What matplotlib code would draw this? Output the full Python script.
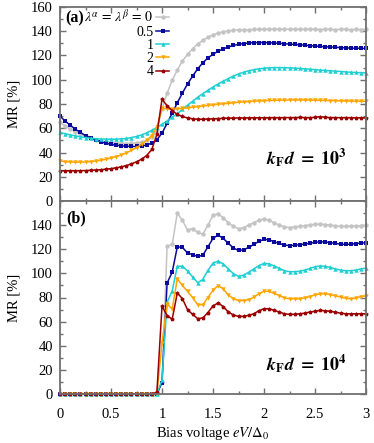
import numpy as np
import matplotlib
matplotlib.use("Agg")
import matplotlib.pyplot as plt

plt.rcParams['font.family'] = ['Liberation Serif', 'DejaVu Serif']
plt.rcParams['mathtext.fontset'] = 'stix'

# ---------------- data ----------------
x = np.linspace(0, 3, 61)
series_labels = [r"$\lambda^{\alpha}\,=\,\lambda^{\beta}\,=\,0$", "0.5", "1", "2", "4"]
colors = ['#c4c4c4', '#0a0a9c', '#1fcfd2', '#ffa500', '#9a0000']
markers = ['o', 's', '^', 'v', 'p']

gray_a = [65, 62, 59.3, 57, 55, 53.3, 51.8, 50.6, 49.6, 48.8, 48.2, 47.8, 47.5, 47.4, 47.5, 47.8, 48.6, 50, 52.5, 58,
          76, 89, 99.5, 108, 115.5, 121, 125.5, 129.5, 132.5, 135, 137, 138.5, 139.5, 140.3, 140.8, 141.2, 141.4, 141.2, 141.5, 141.6, 141.7,
          141.6, 141.8, 141.7, 141.8, 141.6, 141.8, 141.7, 141.6, 141.9, 141.7, 141.4, 141.7, 141.6, 141.3, 141.6, 141.5, 141.2, 141.6, 141.4, 141.5]
blue_a = [70, 66, 62.5, 59.3, 56.5, 54, 52, 50.2, 48.8, 47.6, 46.7, 46, 45.5, 45.2, 45, 45, 45.3, 46.2, 47.8, 50.5,
          56, 64, 72.5, 81, 89, 96.5, 103, 109, 114, 118, 121, 123.5, 125.5, 127, 128.3, 129.2, 129.8, 130.3, 130.6, 130.7, 130.7,
          130.5, 130.3, 130, 129.7, 129.4, 129.1, 128.8, 128.5, 128.1, 127.8, 127.5, 127.2, 127, 126.8, 126.5, 126.3, 126.1, 126, 125.9, 125.8]
cyan_a = [56.5, 55.5, 54.5, 53.7, 53, 52.3, 51.8, 51.4, 51.1, 51, 51, 51, 51.2, 51.6, 52.3, 53.2, 54.5, 56.2, 58.3, 60.7,
          63.3, 66, 69, 72, 75.5, 79, 82.3, 85.5, 88.5, 91.3, 94, 96.5, 98.8, 101, 103, 104.8, 106.2, 107.4, 108.3, 109, 109.5,
          109.8, 110, 110, 110, 109.8, 109.6, 109.3, 109, 108.7, 108.3, 108, 107.7, 107.4, 107.1, 106.8, 106.5, 106.2, 106, 105.8, 105.6]
orange_a = [33, 32.5, 32.2, 32, 32, 32.2, 32.5, 33, 33.6, 34.4, 35.4, 36.6, 38, 39.7, 41.7, 44, 46.7, 50, 54, 61,
            76.5, 76, 75.8, 76, 76.4, 76.8, 77.3, 77.8, 78.3, 78.8, 79.3, 79.8, 80.2, 80.6, 81, 81.4, 81.7, 82, 82.3, 82.5, 82.7,
            82.9, 83, 83.1, 83.2, 83.3, 83.3, 83.3, 83.3, 83.2, 83.1, 83, 82.9, 82.8, 82.7, 82.6, 82.5, 82.4, 82.3, 82.3, 82.2]
red_a = [25, 25, 25, 25, 25, 25.1, 25.3, 25.5, 25.8, 26.2, 26.7, 27.4, 28.2, 29.2, 30.6, 32.3, 34.5, 37.5, 42.5, 55,
         84, 78.5, 74.5, 71.5, 69.7, 68.5, 67.8, 67.4, 67.4, 67.6, 67.8, 68, 68.2, 68.3, 68.4, 68.5, 68.5, 68.6, 68.6, 68.7, 68.7,
         68.7, 68.8, 68.7, 68.8, 68.8, 68.8, 68.9, 68.8, 68.8, 69.0, 69.6, 69.0, 68.8, 68.8, 68.7, 68.8, 68.7, 68.6, 68.7, 68.6]

gray_b = [0, 0, 0, 0, 0, 0, 0, 0, 0, 0, 0, 0, 0, 0, 0, 0, 0, 0, 0, 0,
          10, 122.5, 124, 150, 144, 136, 137, 134, 132.5, 140, 148, 149.5, 146, 142, 139, 137, 138, 140, 142, 144, 145,
          144, 142, 140, 138.5, 138, 138.5, 139, 139.5, 140.2, 140.7, 140.8, 140.5, 140, 139.4, 139, 139, 139.2, 139.4, 139.5, 139.7]
blue_b = [0, 0, 0, 0, 0, 0, 0, 0, 0, 0, 0, 0, 0, 0, 0, 0, 0, 0, 0, 0,
          9.5, 92, 101, 122, 121.5, 117, 115.5, 114, 115, 122, 129, 131.7, 129, 125, 121, 119, 119.5, 121.5, 124, 126.5, 128.2,
          127.8, 126.2, 124.8, 123.5, 123, 123.3, 123.8, 124.3, 125, 125.7, 126.2, 126, 125.5, 124.8, 124.3, 124, 124.2, 124.7, 125.1, 125.4]
cyan_b = [0, 0, 0, 0, 0, 0, 0, 0, 0, 0, 0, 0, 0, 0, 0, 0, 0, 0, 0, 0,
          11.5, 76, 85.5, 105.8, 106, 102, 97, 92.2, 95, 102.5, 108.5, 110.2, 107.8, 103.7, 99.8, 97.5, 98.5, 100.9, 103.7, 106.4, 108.3,
          107.8, 106.2, 104.2, 102.2, 101.4, 101.4, 101.8, 102.7, 104.1, 105.5, 106.2, 105.8, 105, 103.7, 102.7, 102.2, 102.2, 102.7, 103.7, 104.4]
orange_b = [0, 0, 0, 0, 0, 0, 0, 0, 0, 0, 0, 0, 0, 0, 0, 0, 0, 0, 0, 0.3,
            42, 74.5, 70.5, 95.5, 90, 85, 80, 74, 74, 80, 86, 89.9, 87.1, 82, 79, 77.5, 77.5, 78.2, 80.3, 83, 85.2,
            85, 83.5, 81.6, 79.7, 78.9, 78.9, 78.9, 79.7, 80.8, 82.2, 83, 83, 82.4, 81.4, 80.3, 79.4, 78.9, 79.4, 80.8, 81.4]
red_b = [0, 0, 0, 0, 0, 0, 0, 0, 0, 0, 0, 0, 0, 0, 0, 0, 0, 0, 0, 1.5,
         72.8, 65, 62, 83.8, 79, 70, 66, 62.5, 63, 67.5, 73, 75.5, 72.5, 68, 65.5, 64.3, 64.3, 65.2, 66.5, 69, 70.7,
         70.7, 69.3, 68, 66.5, 66, 66, 66.5, 67, 68, 68.5, 69.3, 69, 68.5, 67.8, 67, 66.5, 66.5, 66.5, 66.5, 66.5]

panel_a = [gray_a, blue_a, cyan_a, orange_a, red_a]
panel_b = [gray_b, blue_b, cyan_b, orange_b, red_b]

xticks = [0, 0.5, 1, 1.5, 2, 2.5, 3]
xticklabels = ["0", "0.5", "1", "1.5", "2", "2.5", "3"]
yticks_a = [0, 20, 40, 60, 80, 100, 120, 140, 160]
yticks_b = [0, 20, 40, 60, 80, 100, 120, 140]

# ---------------- figure ----------------
W, H = 374, 443
fig = plt.figure(figsize=(W / 100, H / 100), dpi=100)
left, right = 60 / W, 366 / W
ax_a = fig.add_axes([left, 1 - 201 / H, right - left, 194 / H])
ax_b = fig.add_axes([left, 1 - 394 / H, right - left, 193 / H])

frame_col = '#707070'
fs = 10.5
fs_key = 10

for ax, data in ((ax_a, panel_a), (ax_b, panel_b)):
    for ys, c, m in zip(data, colors, markers):
        ax.plot(x, ys, color=c, marker=m, markersize=3.2, markeredgewidth=0,
                linewidth=1.1, clip_on=False)
    ax.set_xlim(0, 3)
    ax.set_ylim(0, 160)
    ax.set_xticks(xticks)
    ax.set_xticks(np.arange(0, 3.01, 0.25), minor=True)
    ax.set_yticks(np.arange(0, 161, 10), minor=True)
    for s in ax.spines.values():
        s.set_color(frame_col)
        s.set_linewidth(1.3)
    ax.tick_params(which='both', direction='in', top=True, right=True,
                   color=frame_col, width=1.0, labelsize=fs)
    ax.tick_params(which='major', length=4.5)
    ax.tick_params(which='minor', length=2.5)
    ax.tick_params(axis='y', pad=5)
    ax.set_ylabel("MR [%]", fontsize=fs, labelpad=8)

ax_a.set_yticks(yticks_a)
ax_a.set_yticklabels([str(v) for v in yticks_a])
ax_a.tick_params(axis='x', labelbottom=False)
ax_b.set_yticks(yticks_b)
ax_b.set_yticklabels([str(v) for v in yticks_b])
ax_b.set_xticklabels(xticklabels)
ax_b.tick_params(axis='x', pad=10)
ax_b.set_xlabel(r"Bias voltage $eV/\Delta_0$", fontsize=fs, labelpad=3)

# key of panel (a)
ax_a.text(0.016, 0.922, "(a)", transform=ax_a.transAxes, fontsize=fs + 1,
          fontweight='bold', ha='left', va='baseline')
row_y = [0.946, 0.877, 0.809, 0.740, 0.672]
for lab, c, m, yy in zip(series_labels, colors, markers, row_y):
    ax_a.text(0.305, yy - 0.024, lab, transform=ax_a.transAxes, fontsize=fs_key,
              ha='right', va='baseline')
    ax_a.plot([0.314, 0.356], [yy, yy], transform=ax_a.transAxes, color=c,
              linewidth=1.1, clip_on=False)
    ax_a.plot([0.335], [yy], transform=ax_a.transAxes, color=c, marker=m,
              markersize=3.2, markeredgewidth=0, clip_on=False)

ax_b.text(0.02, 0.912, "(b)", transform=ax_b.transAxes, fontsize=fs + 1,
          fontweight='bold', ha='left', va='center')

ax_a.text(0.937, 0.224, r"$\mathbfit{k}_{\mathbf{F}}\mathbfit{d}\ \mathbf{=\ 10^{3}}$",
          transform=ax_a.transAxes, fontsize=13, ha='right', va='center')
ax_b.text(0.937, 0.155, r"$\mathbfit{k}_{\mathbf{F}}\mathbfit{d}\ \mathbf{=\ 10^{4}}$",
          transform=ax_b.transAxes, fontsize=13, ha='right', va='center')

fig.savefig("out.png", dpi=100)
